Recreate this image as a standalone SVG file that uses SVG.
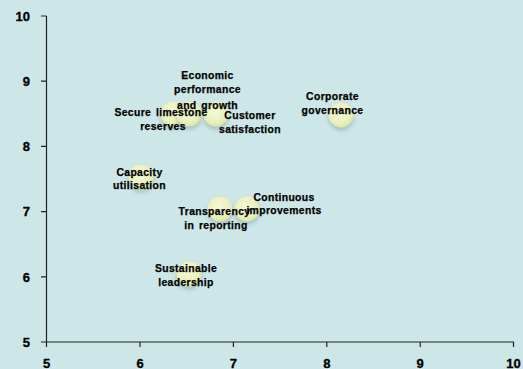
<svg xmlns="http://www.w3.org/2000/svg" width="523" height="369" viewBox="0 0 523 369">
<style>
.lbl{font-family:"Liberation Sans",Arial,sans-serif;font-weight:bold;font-size:10.4px;letter-spacing:0.35px;word-spacing:1.5px;fill:#000;stroke:#000;stroke-width:0.25px;text-anchor:middle}
.ax{font-family:"Liberation Sans",Arial,sans-serif;font-weight:bold;font-size:13px;fill:#000;stroke:#000;stroke-width:0.3px}
.axis{stroke:#222;stroke-width:1.2;fill:none}
.b{fill:url(#bg);filter:url(#sh)}
</style>
<defs>
<radialGradient id="bg" cx="0.45" cy="0.4" r="0.6">
<stop offset="0" stop-color="#f6f9d8"/>
<stop offset="0.7" stop-color="#eaf1bd"/>
<stop offset="1" stop-color="#dbe6a6"/>
</radialGradient>
<filter id="sh" x="-50%" y="-50%" width="200%" height="200%">
<feDropShadow dx="0" dy="3" stdDeviation="2" flood-color="#6f8a8a" flood-opacity="0.4"/>
</filter>
</defs>
<rect width="523" height="369" fill="#cde6e7"/>
<g id="axes">
<path class="axis" d="M46.5 16V342H513.5V347M41 16H46.5M41 81.2H46.5M41 146.4H46.5M41 211.6H46.5M41 276.8H46.5M41 342H46.5M46.5 342V347M140 342V347M233.4 342V347M326.8 342V347M420.2 342V347"/>
<text class="ax" x="30" y="21" text-anchor="end">10</text>
<text class="ax" x="30" y="86" text-anchor="end">9</text>
<text class="ax" x="30" y="151" text-anchor="end">8</text>
<text class="ax" x="30" y="216" text-anchor="end">7</text>
<text class="ax" x="30" y="282" text-anchor="end">6</text>
<text class="ax" x="30" y="347" text-anchor="end">5</text>
<text class="ax" x="46.5" y="367.5" text-anchor="middle">5</text>
<text class="ax" x="140" y="367.5" text-anchor="middle">6</text>
<text class="ax" x="233.4" y="367.5" text-anchor="middle">7</text>
<text class="ax" x="326.8" y="367.5" text-anchor="middle">8</text>
<text class="ax" x="420.2" y="367.5" text-anchor="middle">9</text>
<text class="ax" x="513.5" y="367.5" text-anchor="middle">10</text>
</g>
<g id="connectors"></g>
<g id="bubbles">
<circle class="b" cx="173" cy="114" r="12.5"/>
<circle class="b" cx="189" cy="114" r="12.5"/>
<circle class="b" cx="216" cy="114" r="12.5"/>
<circle class="b" cx="341" cy="115" r="12.5"/>
<circle class="b" cx="141" cy="177" r="12.5"/>
<circle class="b" cx="220" cy="209" r="12.5"/>
<circle class="b" cx="247" cy="209" r="12.5"/>
<circle class="b" cx="189" cy="274" r="12.5"/>
</g>
<g id="n-secure"><text class="lbl" x="161" y="116">Secure limestone</text><text class="lbl" x="163" y="130">reserves</text></g>
<g id="n-economic"><text class="lbl" x="207.5" y="79">Economic</text><text class="lbl" x="207.5" y="93">performance</text><text class="lbl" x="207.5" y="108.5">and growth</text></g>
<g id="n-customer"><text class="lbl" x="250" y="119">Customer</text><text class="lbl" x="250" y="133">satisfaction</text></g>
<g id="n-corporate"><text class="lbl" x="332.5" y="100">Corporate</text><text class="lbl" x="332.5" y="114">governance</text></g>
<g id="n-capacity"><text class="lbl" x="139.5" y="176">Capacity</text><text class="lbl" x="139.5" y="189">utilisation</text></g>
<g id="n-transparency"><text class="lbl" x="214.5" y="215">Transparency</text><text class="lbl" x="216" y="229">in reporting</text></g>
<g id="n-continuous"><text class="lbl" x="284" y="201">Continuous</text><text class="lbl" x="284" y="214">improvements</text></g>
<g id="n-sustainable"><text class="lbl" x="186" y="272">Sustainable</text><text class="lbl" x="186" y="286">leadership</text></g>
</svg>
